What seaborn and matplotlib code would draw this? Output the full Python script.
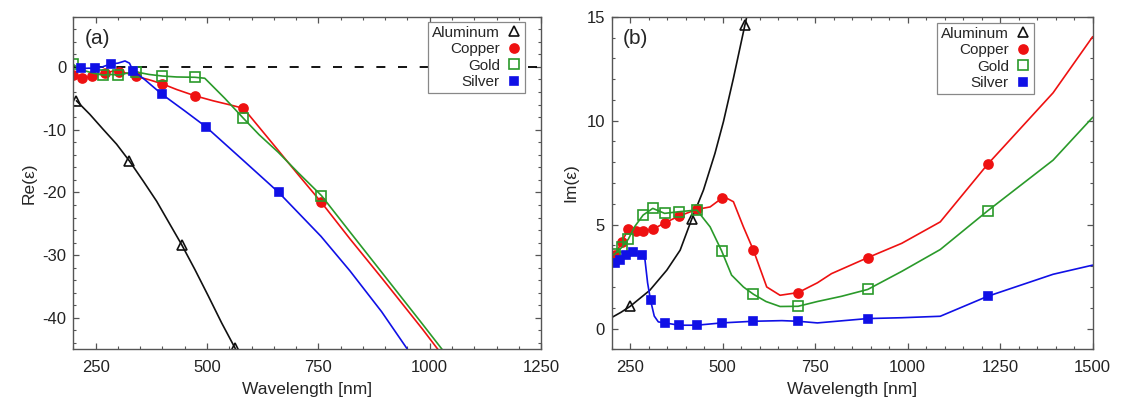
import numpy as np
import pandas as pd
import matplotlib
matplotlib.use("Agg")
import matplotlib.pyplot as plt
from matplotlib.lines import Line2D
from matplotlib.ticker import MultipleLocator
import seaborn as sns

# ---------------- panel (a): Re(eps) ----------------
al_re_wl = [207, 237, 267, 297, 326, 357, 387, 417, 443, 473, 503, 533, 563, 580]
al_re = [-5.4, -7.55, -9.95, -12.3, -15.0, -18.2, -21.4, -25.1, -28.3, -32.3, -36.5, -40.8, -44.8, -47.2]
al_re_mk = [0, 4, 8, 12]

cu_re_wl = [200, 220, 242, 256, 272, 287, 302, 320, 340, 368, 398, 432, 473, 514,
            552, 582, 617, 660, 704, 757, 821, 892, 984, 1088]
cu_re = [-1.3, -1.8, -1.5, -1.2, -1.0, -0.7, -0.8, -1.0, -1.5, -2.0, -2.65, -3.6, -4.6, -5.4,
         -6.05, -6.6, -9.6, -13.3, -17.1, -21.6, -27.4, -33.6, -41.8, -51.5]
cu_re_mk = [0, 1, 2, 4, 6, 8, 10, 12, 15, 19]

au_re_wl = [200, 215, 245, 267, 285, 301, 320, 341, 370, 400, 432, 473, 495, 540,
            582, 617, 660, 704, 757, 821, 892, 984, 1088]
au_re = [0.4, -0.4, -1.0, -1.3, -1.2, -1.3, -1.0, -0.8, -1.2, -1.45, -1.6, -1.65, -1.8, -5.0,
         -8.2, -10.8, -13.6, -16.8, -20.5, -26.3, -32.7, -41.0, -50.5]
au_re_mk = [0, 3, 5, 7, 9, 11, 14, 18]

ag_re_wl = [218, 235, 249, 265, 285, 300, 316, 326, 334, 360, 398, 450, 497, 580,
            661, 756, 821, 892, 984]
ag_re = [-0.25, -0.2, -0.25, 0.0, 0.5, 0.6, 0.95, 0.6, -0.6, -2.0, -4.3, -7.0, -9.5, -14.8,
         -20.0, -27.0, -32.5, -39.0, -48.5]
ag_re_mk = [0, 2, 4, 8, 10, 12, 14]

# ---------------- panel (b): Im(eps) ----------------
al_im_wl = [200, 225, 250, 303, 349, 385, 416, 448, 479, 502, 529, 560, 569]
al_im = [0.53, 0.78, 1.07, 1.84, 2.81, 3.77, 5.25, 6.66, 8.42, 9.95, 12.04, 14.6, 15.3]
al_im_mk = [2, 6, 11]

cu_im_wl = [200, 209, 227, 245, 266, 285, 311, 343, 382, 430, 466, 497, 513, 529,
            556, 583, 619, 655, 704, 756, 794, 892, 984, 1088, 1216, 1393, 1500]
cu_im = [3.3, 3.53, 4.17, 4.77, 4.70, 4.70, 4.77, 5.08, 5.41, 5.73, 5.85, 6.26, 6.25, 6.1,
         4.89, 3.77, 2.0, 1.6, 1.73, 2.2, 2.64, 3.41, 4.1, 5.13, 7.9, 11.34, 14.04]
cu_im_mk = [1, 2, 3, 4, 5, 6, 7, 8, 9, 11, 15, 18, 21, 24]

au_im_wl = [200, 209, 227, 245, 262, 285, 311, 343, 382, 430, 466, 497, 524, 556,
            583, 617, 655, 704, 756, 821, 892, 984, 1088, 1216, 1393, 1500]
au_im = [3.5, 3.6, 3.9, 4.3, 4.9, 5.46, 5.78, 5.54, 5.62, 5.70, 4.89, 3.74, 2.57, 2.0,
         1.65, 1.3, 1.06, 1.07, 1.3, 1.55, 1.88, 2.75, 3.8, 5.66, 8.1, 10.16]
au_im_mk = [1, 2, 3, 5, 6, 7, 8, 9, 11, 14, 17, 20, 23]

ag_im_wl = [200, 209, 222, 240, 258, 281, 290, 297, 305, 315, 326, 344, 382, 430,
            497, 583, 660, 704, 756, 892, 984, 1088, 1216, 1393, 1500]
ag_im = [3.05, 3.13, 3.29, 3.53, 3.69, 3.53, 3.3, 2.2, 1.36, 0.6, 0.32, 0.27, 0.16, 0.16,
         0.27, 0.35, 0.38, 0.35, 0.27, 0.48, 0.52, 0.59, 1.55, 2.61, 3.05]
ag_im_mk = [1, 2, 3, 4, 5, 8, 11, 12, 13, 14, 15, 17, 19, 22]

metales = ["Aluminum", "Copper", "Gold", "Silver"]
colores = {"Aluminum": "#111111", "Copper": "#ee1111", "Gold": "#2a9a2a", "Silver": "#1010e6"}
marcadores = {"Aluminum": "^", "Copper": "o", "Gold": "s", "Silver": "s"}
rellenos = {"Aluminum": "none", "Copper": "#ee1111", "Gold": "none", "Silver": "#1010e6"}
tamanos = {"Aluminum": 6.5, "Copper": 6.5, "Gold": 6.5, "Silver": 6.0}


def trazar(ax, metal, wl, vals, mk):
    c = colores[metal]
    sns.lineplot(x=wl, y=vals, ax=ax, color=c, lw=1.2, sort=False, estimator=None,
                 marker=marcadores[metal], markevery=mk, markersize=tamanos[metal],
                 markerfacecolor=rellenos[metal], markeredgecolor=c,
                 markeredgewidth=1.2, legend=False)


def leyenda(ax, x, y):
    handles = [Line2D([], [], ls="none", marker=marcadores[m], color=colores[m],
                      markerfacecolor=rellenos[m], markeredgecolor=colores[m],
                      markersize=tamanos[m], markeredgewidth=1.2) for m in metales]
    leg = ax.legend(handles, metales, loc="upper right", bbox_to_anchor=(x, y),
                    markerfirst=False, fontsize=11, frameon=True, fancybox=False,
                    handlelength=0.9, handletextpad=0.5, labelspacing=0.17,
                    borderpad=0.25, borderaxespad=0.0, framealpha=1)
    leg.get_frame().set_edgecolor("#888888")
    leg.get_frame().set_linewidth(0.9)
    # labels right aligned next to the marker
    leg._legend_handle_box.get_children()[0].align = "right"


def estilo(ax):
    for s in ax.spines.values():
        s.set_color("#555555")
        s.set_linewidth(1.0)
    ax.tick_params(which="both", direction="in", top=True, right=True,
                   colors="#555555", labelcolor="#222222", labelsize=12)
    ax.tick_params(which="major", length=4.5, width=0.9)
    ax.tick_params(which="minor", length=2.5, width=0.8)
    ax.tick_params(axis="x", pad=8)
    ax.tick_params(axis="y", pad=5)


sns.set_theme(style="ticks")
plt.rcParams["font.family"] = ["Liberation Sans", "DejaVu Sans"]
plt.rcParams["axes.unicode_minus"] = False

fig = plt.figure(figsize=(11.23, 4.03), dpi=100)
ax_a = fig.add_axes([0.0653, 0.1332, 0.4165, 0.8253])
ax_b = fig.add_axes([0.5447, 0.1332, 0.4283, 0.8253])

# panel (a)
ax_a.axhline(0, color="black", lw=1.3, ls=(0, (5, 7)), zorder=1)
trazar(ax_a, "Aluminum", al_re_wl, al_re, al_re_mk)
trazar(ax_a, "Copper", cu_re_wl, cu_re, cu_re_mk)
trazar(ax_a, "Gold", au_re_wl, au_re, au_re_mk)
trazar(ax_a, "Silver", ag_re_wl, ag_re, ag_re_mk)
ax_a.set_xlim(200, 1250)
ax_a.set_ylim(-45, 8)
ax_a.xaxis.set_major_locator(MultipleLocator(250))
ax_a.xaxis.set_minor_locator(MultipleLocator(50))
ax_a.yaxis.set_major_locator(MultipleLocator(10))
ax_a.yaxis.set_minor_locator(MultipleLocator(2))
ax_a.set_xlabel("Wavelength [nm]", fontsize=12.5, labelpad=5)
ax_a.set_ylabel("Re(ε)", fontsize=12.5, labelpad=4)
ax_a.text(0.025, 0.935, "(a)", transform=ax_a.transAxes, fontsize=15, va="center")
estilo(ax_a)
leyenda(ax_a, 0.966, 0.985)

# panel (b)
trazar(ax_b, "Aluminum", al_im_wl, al_im, al_im_mk)
trazar(ax_b, "Copper", cu_im_wl, cu_im, cu_im_mk)
trazar(ax_b, "Gold", au_im_wl, au_im, au_im_mk)
trazar(ax_b, "Silver", ag_im_wl, ag_im, ag_im_mk)
ax_b.set_xlim(200, 1500)
ax_b.set_ylim(-1, 15)
ax_b.xaxis.set_major_locator(MultipleLocator(250))
ax_b.xaxis.set_minor_locator(MultipleLocator(50))
ax_b.yaxis.set_major_locator(MultipleLocator(5))
ax_b.yaxis.set_minor_locator(MultipleLocator(1))
ax_b.set_xlabel("Wavelength [nm]", fontsize=12.5, labelpad=5)
ax_b.set_ylabel("Im(ε)", fontsize=12.5, labelpad=6)
ax_b.text(0.022, 0.935, "(b)", transform=ax_b.transAxes, fontsize=15, va="center")
estilo(ax_b)
leyenda(ax_b, 0.878, 0.982)

fig.savefig("out.png", dpi=100)
